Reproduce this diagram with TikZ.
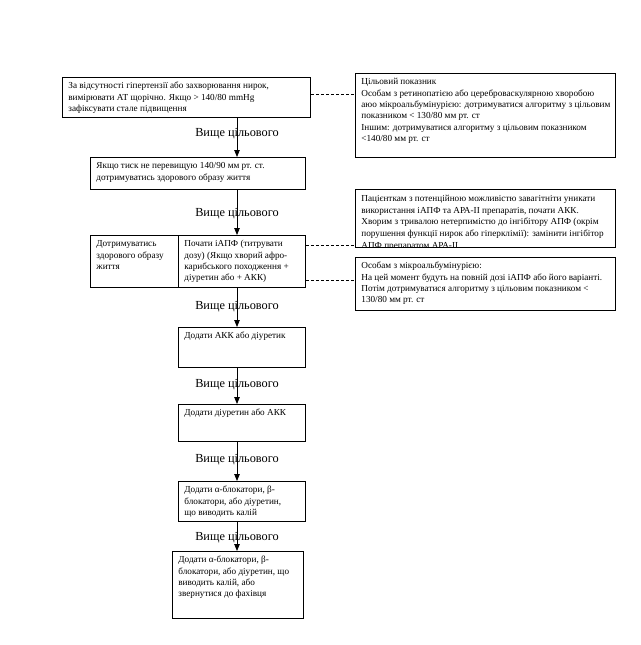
\documentclass[tikz,border=0pt]{standalone}
\usepackage{fontspec}
\setmainfont{Liberation Serif}
\usetikzlibrary{arrows.meta}
\newcommand{\bx}[4][11.3]{\parbox[t][\dimexpr#3pt-7.2pt\relax][t]{\dimexpr#2pt-12pt\relax}{\fontsize{9.2}{#1}\selectfont\begin{tabular}[t]{@{}l@{}}#4\end{tabular}}}
\tikzset{
  box/.style={draw, line width=0.8pt, anchor=north west, inner xsep=6pt, inner ysep=3.6pt, align=left},
  lbl/.style={font=\fontsize{12.3}{14}\selectfont, inner sep=1pt},
  arr/.style={line width=0.8pt, -{Triangle[length=7pt,width=5.5pt]}},
  dsh/.style={line width=0.8pt, dash pattern=on 3pt off 2pt}
}
\begin{document}
\begin{tikzpicture}[x=1pt,y=-1pt]
\useasboundingbox (0,0) rectangle (640,645);
\node[box] (b1) at (62,77) {\bx{248}{40}{За відсутності гіпертензії або захворювання нирок,\\ вимірювати АТ щорічно. Якщо > 140/80 mmHg\\ зафіксувати стале підвищення}};
\node[box] (r1) at (355,73) {\bx{260}{84}{Цільовий показник\\ Особам з ретинопатією або цереброваскулярною хворобою\\ аюо мікроальбумінурією: дотримуватися алгоритму з цільовим\\ показником < 130/80 мм рт. ст\\ Іншим: дотримуватися алгоритму з цільовим показником\\ <140/80 мм рт. ст}};
\node[box] (b2) at (90,157) {\bx{215}{32}{Якщо тиск не перевищую 140/90 мм рт. ст.\\ дотримуватись здорового образу життя}};
\node[box] (b3l) at (90,235) {\bx{88}{52}{Дотримуватись\\ здорового образу\\ життя}};
\node[box] (b3r) at (178,235) {\bx{127}{52}{Почати іАПФ (титрувати\\ дозу) (Якщо хворий афро-\\ карибського походження +\\ діуретин або + АКК)}};
\node[box] (r2) at (355,189) {\bx[11.8]{260}{58}{Пацієнткам з потенційною можливістю завагітніти уникати\\ використання іАПФ та АРА-II препаратів, почати АКК.\\ Хворим з тривалою нетерпимістю до інгібітору АПФ (окрім\\ порушення функції нирок або гіперклімії): замінити інгібітор\\ АПФ препаратом АРА-II}};
\fill[white] (r2.south west) rectangle ([yshift=-8pt]r2.south east);
\node[box] (r3) at (355,257) {\bx{260}{53}{Особам з мікроальбумінурією:\\ На цей момент будуть на повній дозі іАПФ або його варіанті.\\ Потім дотримуватися алгоритму з цільовим показником <\\ 130/80 мм рт. ст}};
\node[box] (b4) at (178,327) {\bx{127}{40}{Додати АКК або діуретик}};
\node[box] (b5) at (178,404) {\bx{127}{37}{Додати діуретин або АКК}};
\node[box] (b6) at (178,481) {\bx{127}{40}{Додати α-блокатори, β-\\ блокатори, або діуретин,\\ що виводить калій}};
\node[box] (b7) at (172,551) {\bx{131}{67}{Додати α-блокатори, β-\\ блокатори, або діуретин, що\\ виводить калій, або\\ звернутися до фахівця}};
\node[lbl] (l1) at (237,134) {Вище цільового};
\node[lbl] (l2) at (237,214) {Вище цільового};
\node[lbl] (l3) at (237,307) {Вище цільового};
\node[lbl] (l4) at (237,385) {Вище цільового};
\node[lbl] (l5) at (237,460) {Вище цільового};
\node[lbl] (l6) at (237,538) {Вище цільового};
\draw[arr] (l1 |- b1.south) -- (l1 |- b2.north);
\draw[arr] (l2 |- b2.south) -- (l2 |- b3r.north);
\draw[arr] (l3 |- b3r.south) -- (l3 |- b4.north);
\draw[arr] (l4 |- b4.south) -- (l4 |- b5.north);
\draw[arr] (l5 |- b5.south) -- (l5 |- b6.north);
\draw[arr] (l6 |- b6.south) -- (l6 |- b7.north);
\draw[dsh] ([yshift=3pt]b1.east) coordinate (d0) -- (d0 -| r1.west);
\draw[dsh] ([yshift=-10pt]b3r.north east) coordinate (d1) -- (d1 -| r2.west);
\draw[dsh] ([yshift=-45pt]b3r.north east) coordinate (d2) -- (d2 -| r3.west);
\end{tikzpicture}
\end{document}
